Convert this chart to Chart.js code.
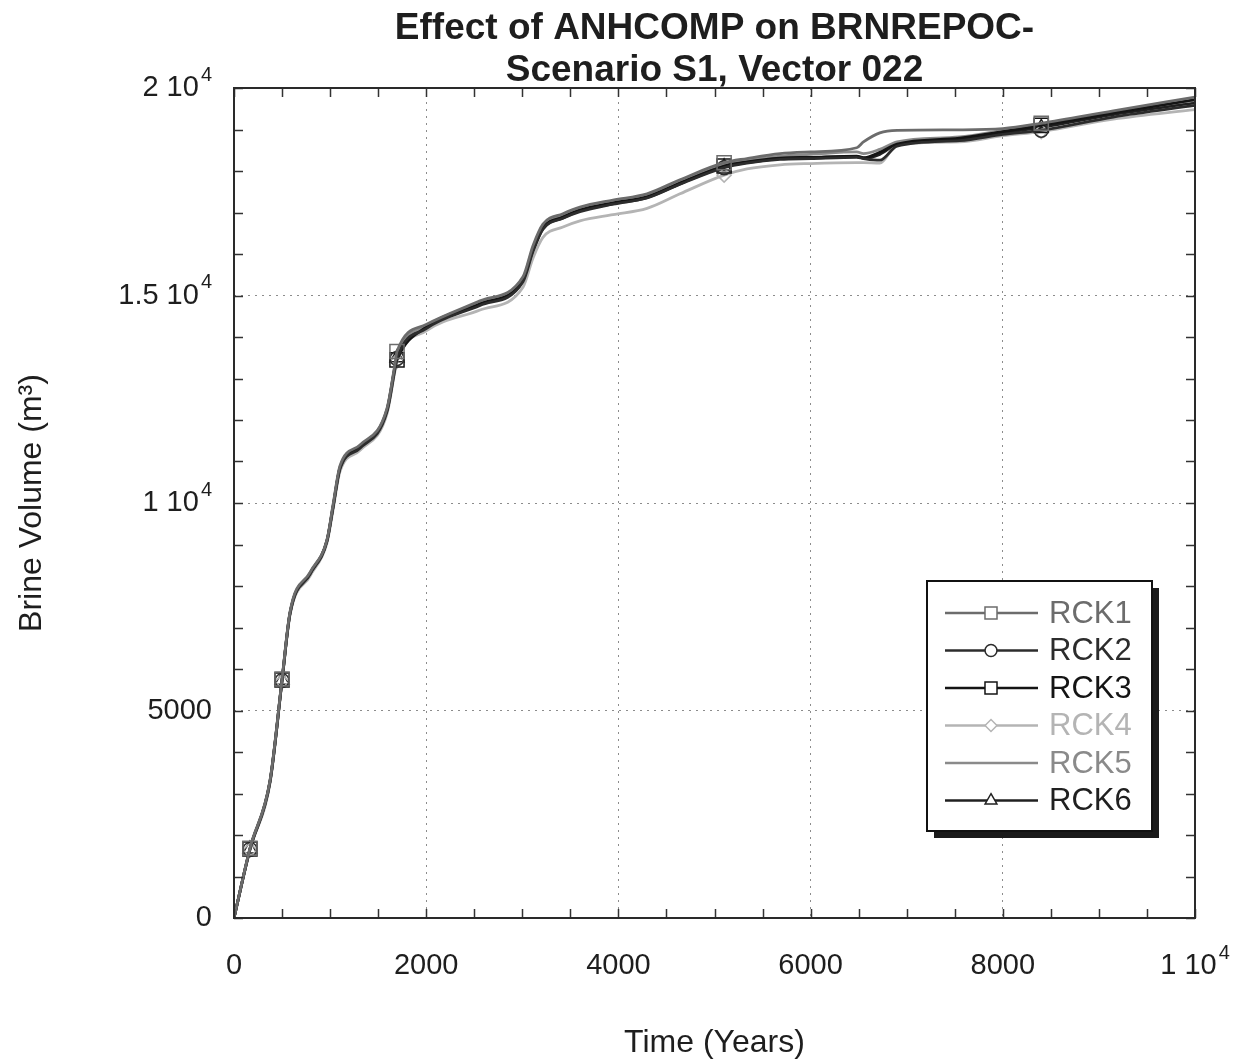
<!DOCTYPE html>
<html>
<head>
<meta charset="utf-8">
<title>Effect of ANHCOMP on BRNREPOC</title>
<script src="https://cdn.jsdelivr.net/npm/chart.js@4.4.1/dist/chart.umd.min.js"></script>
<style>
  html, body { margin: 0; padding: 0; background: #fff; }
  #wrap { width: 1249px; height: 1064px; }
</style>
</head>
<body>
<div id="wrap"><canvas id="chart-brine" width="1249" height="1064"></canvas></div>
<script>
// time axis (years) shared by all six runs
const YEARS = [0, 166, 375, 500, 583, 791, 968, 1030, 1103, 1311, 1592, 1675, 1696, 2000, 2560,
  3007, 3111, 3215, 3423, 3600, 3944, 4298, 4641, 5100, 5338, 5682, 6000, 6480, 6550, 6720,
  6900, 7550, 8000, 8400, 9150, 10000];

// brine volume (m3)
const RCK1 = [0, 1680, 3320, 5760, 7380, 8330, 9120, 9950, 10900, 11400, 12280, 13350, 13650, 14300, 14870,
  15450, 16200, 16720, 16970, 17130, 17300, 17450, 17790, 18200, 18300, 18420, 18460, 18560, 18700, 18920,
  18980, 18990, 19020, 19150, 19450, 19780];
const RCK2 = [0, 1650, 3280, 5720, 7330, 8280, 9080, 9880, 10820, 11320, 12200, 13230, 13480, 14200, 14760,
  15330, 16060, 16600, 16860, 17020, 17200, 17350, 17680, 18080, 18190, 18280, 18300, 18330, 18300, 18260,
  18600, 18730, 18880, 18980, 19300, 19580];
const RCK3 = [0, 1663, 3300, 5735, 7350, 8300, 9100, 9900, 10850, 11350, 12240, 13270, 13450, 14240, 14800,
  15373, 16100, 16630, 16890, 17060, 17230, 17380, 17710, 18120, 18220, 18310, 18330, 18360, 18320, 18450,
  18650, 18790, 18950, 19100, 19400, 19720];
const RCK4 = [0, 1640, 3250, 5700, 7300, 8240, 9040, 9820, 10760, 11270, 12150, 13180, 13420, 14150, 14650,
  15200, 15900, 16400, 16650, 16800, 16950, 17100, 17450, 17900, 18050, 18150, 18180, 18200, 18200, 18190,
  18630, 18700, 18850, 18950, 19250, 19480];
const RCK5 = [0, 1670, 3310, 5750, 7360, 8310, 9110, 9920, 10870, 11370, 12260, 13300, 13550, 14260, 14820,
  15400, 16150, 16680, 16930, 17100, 17270, 17420, 17750, 18160, 18260, 18360, 18400, 18460, 18420, 18520,
  18700, 18820, 18980, 19120, 19420, 19700];
const RCK6 = [0, 1660, 3290, 5730, 7340, 8290, 9090, 9890, 10840, 11340, 12220, 13250, 13500, 14220, 14780,
  15350, 16080, 16610, 16870, 17040, 17210, 17360, 17690, 18100, 18200, 18300, 18320, 18350, 18310, 18400,
  18640, 18760, 18920, 19050, 19360, 19640];

const SERIES_NAMES = ['RCK1', 'RCK2', 'RCK3', 'RCK4', 'RCK5', 'RCK6'];
const SERIES_VALUES = [RCK1, RCK2, RCK3, RCK4, RCK5, RCK6];
const MARKER_YEARS = [166, 500, 1696, 5100, 8400];

// "a^b" means a with superscript b
const X_TICK_LABELS = ['0', '2000', '4000', '6000', '8000', '1 10^4'];
const Y_TICK_LABELS = ['0', '5000', '1 10^4', '1.5 10^4', '2 10^4'];
const TITLE_LINES = ['Effect of ANHCOMP on BRNREPOC-', 'Scenario S1, Vector 022'];

const FONT = "'Liberation Sans', Arial, Helvetica, sans-serif";
const INK = '#1e1e1e';

const SERIES_STYLE = {
  RCK1: { color: '#6c6c6c', point: 'rect',    radius: 10 },
  RCK2: { color: '#2c2c2c', point: 'circle',  radius: 7 },
  RCK3: { color: '#141414', point: 'rect',    radius: 10 },
  RCK4: { color: '#b4b4b4', point: 'rectRot', radius: 7 },
  RCK5: { color: '#8a8a8a', point: false,     radius: 0 },
  RCK6: { color: '#202020', point: 'triangle', radius: 8 },
};

Chart.defaults.font.family = FONT;
Chart.defaults.color = INK;

// tick label with optional superscript exponent
function drawTickLabel(ctx, label, x, y, align) {
  const [base, exp] = label.split('^');
  ctx.font = '29px ' + FONT;
  const wb = ctx.measureText(base).width;
  ctx.font = '20px ' + FONT;
  const we = exp ? ctx.measureText(exp).width + 2 : 0;
  const total = wb + we;
  const x0 = align === 'right' ? x - total : x - total / 2;
  ctx.textAlign = 'left';
  ctx.textBaseline = 'middle';
  ctx.font = '29px ' + FONT;
  ctx.fillText(base, x0, y);
  if (exp) {
    ctx.font = '20px ' + FONT;
    ctx.fillText(exp, x0 + wb + 2, y - 13);
  }
}

// title, tick labels, frame, inside ticks (all four sides) and the boxed legend
const framePlugin = {
  id: 'frame',
  afterDatasetsDraw(chart) {
    const { ctx, chartArea: a, scales: { x, y } } = chart;
    ctx.save();
    ctx.strokeStyle = '#333';
    ctx.lineWidth = 1.5;
    ctx.beginPath();
    for (let v = 0; v <= 10000; v += 500) {
      const px = Math.round(x.getPixelForValue(v)) + 0.5;
      ctx.moveTo(px, a.bottom); ctx.lineTo(px, a.bottom - 9);
      ctx.moveTo(px, a.top); ctx.lineTo(px, a.top + 9);
    }
    for (let v = 0; v <= 20000; v += 1000) {
      const py = Math.round(y.getPixelForValue(v)) + 0.5;
      ctx.moveTo(a.left, py); ctx.lineTo(a.left + 9, py);
      ctx.moveTo(a.right, py); ctx.lineTo(a.right - 9, py);
    }
    ctx.stroke();
    ctx.lineWidth = 2;
    ctx.strokeStyle = '#2a2a2a';
    ctx.strokeRect(a.left, a.top, a.right - a.left, a.bottom - a.top);

    // tick labels from the library's own ticks
    ctx.fillStyle = INK;
    x.ticks.forEach((t, i) => drawTickLabel(ctx, X_TICK_LABELS[i], x.getPixelForValue(t.value), a.bottom + 48, 'center'));
    y.ticks.forEach((t, i) => drawTickLabel(ctx, Y_TICK_LABELS[i], a.left - 22, y.getPixelForValue(t.value), 'right'));

    // title over the plot centre
    ctx.font = 'bold 37px ' + FONT;
    ctx.textAlign = 'center';
    ctx.textBaseline = 'middle';
    const cx = (a.left + a.right) / 2;
    TITLE_LINES.forEach((line, i) => ctx.fillText(line, cx, 29 + i * 42));
    ctx.restore();
  },
  afterDraw(chart) {
    const { ctx } = chart;
    const box = { x: 927, y: 581, w: 225, h: 250 };
    ctx.save();
    ctx.fillStyle = '#1a1a1a';
    ctx.fillRect(box.x + 7, box.y + 7, box.w, box.h);
    ctx.fillStyle = '#fff';
    ctx.fillRect(box.x, box.y, box.w, box.h);
    ctx.lineWidth = 2;
    ctx.strokeStyle = '#111';
    ctx.strokeRect(box.x, box.y, box.w, box.h);
    ctx.font = '31px ' + FONT;
    ctx.textAlign = 'left';
    ctx.textBaseline = 'middle';
    chart.data.datasets.forEach((ds, i) => {
      const st = SERIES_STYLE[ds.label];
      const ry = box.y + 32 + i * 37.5;
      ctx.strokeStyle = st.color;
      ctx.lineWidth = 2.5;
      ctx.beginPath();
      ctx.moveTo(945, ry); ctx.lineTo(1038, ry);
      ctx.stroke();
      if (st.point) {
        ctx.fillStyle = '#fff';
        ctx.lineWidth = 1.5;
        Chart.helpers.drawPoint(ctx, { pointStyle: st.point, radius: st.radius * 0.85, rotation: 0, borderWidth: 1.5 }, 991, ry);
      }
      ctx.fillStyle = st.color;
      ctx.fillText(ds.label, 1049, ry + 1);
    });
    ctx.restore();
  },
};

const datasets = SERIES_NAMES.map((name, i) => {
  const st = SERIES_STYLE[name];
  return {
    label: name,
    data: YEARS.map((yr, j) => ({ x: yr, y: SERIES_VALUES[i][j] })),
    borderColor: st.color,
    backgroundColor: st.color,
    borderWidth: 2.8,
    cubicInterpolationMode: 'monotone',
    pointStyle: st.point || 'circle',
    pointRadius: c => (st.point && MARKER_YEARS.includes(YEARS[c.dataIndex]) ? st.radius : 0),
    pointBorderColor: st.color,
    pointBackgroundColor: 'rgba(0,0,0,0)',
    pointBorderWidth: 1.5,
    fill: false,
  };
});

new Chart(document.getElementById('chart-brine').getContext('2d'), {
  type: 'line',
  data: { datasets },
  plugins: [framePlugin],
  options: {
    responsive: false,
    animation: false,
    devicePixelRatio: 1,
    layout: { autoPadding: false, padding: { left: 0, right: 54, top: 88, bottom: 0 } },
    plugins: {
      legend: { display: false },
      tooltip: { enabled: false },
      title: { display: false },
    },
    scales: {
      x: {
        type: 'linear',
        min: 0, max: 10000,
        afterFit(s) { s.height = 146; },
        ticks: { stepSize: 2000, display: false },
        grid: { color: '#8c8c8c', lineWidth: 1, drawTicks: false },
        border: { display: false, dash: [2, 5] },
        title: { display: true, text: 'Time (Years)', font: { size: 32 }, color: INK, padding: { top: 0, bottom: 2 } },
      },
      y: {
        type: 'linear',
        min: 0, max: 20000,
        afterFit(s) { s.width = 234; },
        ticks: { stepSize: 5000, display: false },
        grid: { color: '#8c8c8c', lineWidth: 1, drawTicks: false },
        border: { display: false, dash: [2, 5] },
        title: { display: true, text: 'Brine Volume (m\u00b3)', font: { size: 32 }, color: INK, padding: { top: 13, bottom: 0 } },
      },
    },
  },
});
</script>
</body>
</html>
